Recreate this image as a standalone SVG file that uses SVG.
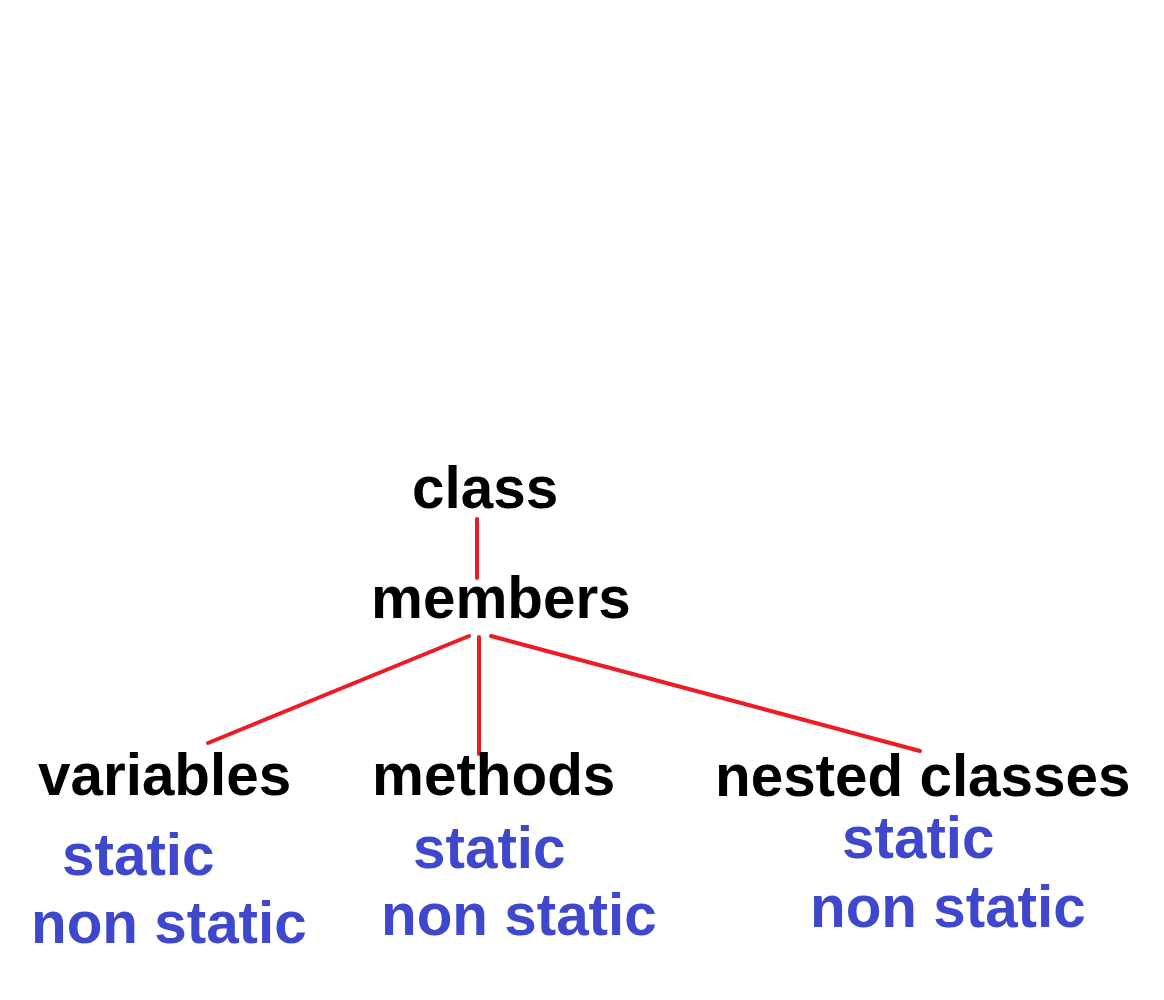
<svg xmlns="http://www.w3.org/2000/svg" width="1164" height="1000" viewBox="0 0 1164 1000">
<style>
text{font-family:"Liberation Sans",Arial,sans-serif;font-weight:bold;font-size:58.4px}
.k{fill:#000}
.b{fill:#3F48CC}
.c{stroke:#ED1C24;stroke-width:4;stroke-linecap:round;fill:none}
</style>
<rect width="1164" height="1000" fill="#fff"/>
<g id="connectors">
<line class="c" x1="477" y1="519" x2="477" y2="578"/>
<line class="c" x1="469" y1="636" x2="208" y2="743"/>
<line class="c" x1="479" y1="637" x2="479" y2="754"/>
<line class="c" x1="491" y1="636" x2="920" y2="751"/>
</g>
<g id="node-class"><text class="k" x="412" y="508">class</text></g>
<g id="node-members"><text class="k" x="371" y="618">members</text></g>
<g id="node-variables">
<text class="k" x="38" y="795">variables</text>
<text class="b" x="62" y="875">static</text>
<text class="b" x="31" y="943">non static</text>
</g>
<g id="node-methods">
<text class="k" x="372" y="795">methods</text>
<text class="b" x="413" y="868">static</text>
<text class="b" x="381" y="935">non static</text>
</g>
<g id="node-nested">
<text class="k" x="715" y="796">nested classes</text>
<text class="b" x="842" y="858">static</text>
<text class="b" x="810" y="927">non static</text>
</g>
</svg>
